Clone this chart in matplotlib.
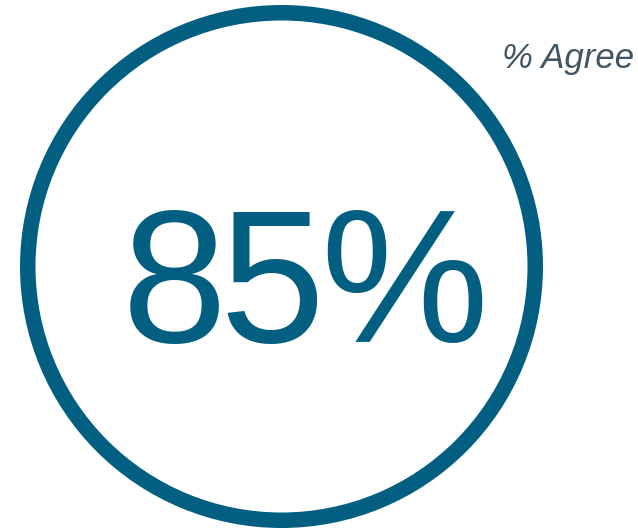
import matplotlib
matplotlib.use('Agg')
import matplotlib.pyplot as plt
from matplotlib.patches import Circle

# data
value = 85
value_label = str(value) + '%'
caption = '% Agree'

ring_color = '#035f82'
caption_color = '#415563'

W, H, DPI = 638, 531, 100
fig = plt.figure(figsize=(W / DPI, H / DPI), dpi=DPI)
ax = fig.add_axes([0, 0, 1, 1])
ax.set_xlim(0, W)
ax.set_ylim(H, 0)
ax.set_aspect('equal')
ax.axis('off')

# ring (pixel coordinates, stroke ~16 px)
stroke_px = 15.5
ring = Circle((281.5, 266.5), 261.5 - stroke_px / 2, fill=False,
              edgecolor=ring_color, linewidth=stroke_px * 72 / DPI)
ax.add_patch(ring)

# big number, set glyph by glyph for the tight tracking of the original
char_x = [174, 272, 404]
for ch, x in zip(value_label, char_x):
    ax.text(x, 342, ch, fontsize=136, family='Liberation Sans',
            color=ring_color, ha='center', va='baseline')

# caption
ax.text(634, 68, caption, fontsize=25, family='Liberation Sans', style='italic',
        color=caption_color, ha='right', va='baseline')

fig.savefig('out.png', dpi=DPI)
